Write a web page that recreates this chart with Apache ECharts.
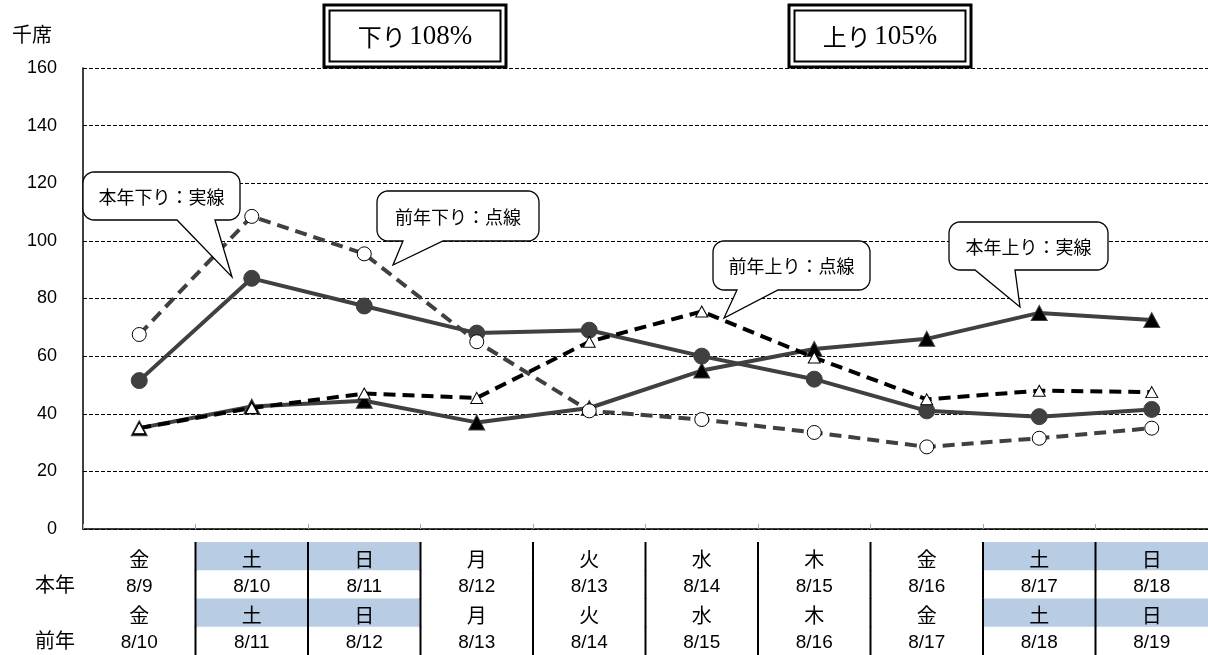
<!DOCTYPE html>
<html><head><meta charset="utf-8">
<script src="https://cdn.jsdelivr.net/npm/echarts/dist/echarts.min.js"></script>
<style>html,body{margin:0;padding:0;background:#fff}#c{width:1208px;height:655px}</style>
</head><body><div id="c"></div>
<script>
// ---- data ----
const datesThis = ['8/9','8/10','8/11','8/12','8/13','8/14','8/15','8/16','8/17','8/18'];
const datesLast = ['8/10','8/11','8/12','8/13','8/14','8/15','8/16','8/17','8/18','8/19'];
const daysThis = ['金','土','日','月','火','水','木','金','土','日'];
const daysLast = ['金','土','日','月','火','水','木','金','土','日'];
const rowNames = ['', '本年', '', '前年'];
const thisDown = [51.5, 87, 77.4, 68, 69, 60, 52, 41, 39, 41.5];   // 本年下り
const lastDown = [67.5, 108.5, 95.5, 65, 41, 38, 33.5, 28.5, 31.5, 35]; // 前年下り
const thisUp   = [35, 42.5, 44.5, 37, 42, 55, 62.5, 66, 75, 72.5];  // 本年上り
const lastUp   = [35, 42, 47, 45.5, 65, 75.5, 59.5, 45, 48, 47.5];  // 前年上り
const yMin = 0, yMax = 160, yStep = 20;
const unitLabel = '千席';
const titleDown = ['下り', '108%'];
const titleUp = ['上り', '105%'];
const calloutTexts = ['本年下り：実線', '前年下り：点線', '前年上り：点線', '本年上り：実線'];

// ---- helpers ----
const CJK = '"Noto Sans CJK JP"';
const SANS = '"Liberation Sans", Arial, sans-serif';
const SERIF = '"Liberation Serif", "Times New Roman", serif';

function arcPts(cx, cy, r, a0, a1, out) {
  const n = 8;
  for (let k = 0; k <= n; k++) {
    const a = a0 + (a1 - a0) * k / n;
    out.push([cx + r * Math.cos(a), cy + r * Math.sin(a)]);
  }
}
function bubblePoints(x, y, w, h, r, b1, b2, tx, ty) {
  const R = x + w, B = y + h, P = Math.PI;
  const pts = [];
  arcPts(x + r, y + r, r, P, 1.5 * P, pts);
  arcPts(R - r, y + r, r, 1.5 * P, 2 * P, pts);
  arcPts(R - r, B - r, r, 0, 0.5 * P, pts);
  pts.push([b2, B], [tx, ty], [b1, B]);
  arcPts(x + r, B - r, r, 0.5 * P, P, pts);
  return pts;
}
function bubble(box, text) {
  const [x, y, w, h, b1, b2, tx, ty] = box;
  return [
    { type: 'polygon', shape: { points: bubblePoints(x, y, w, h, 11, b1, b2, tx, ty) },
      style: { fill: '#fff', stroke: '#000', lineWidth: 1.3 }, z: 100 },
    { type: 'text', z: 101, style: { text: text, x: x + w / 2, y: y + h / 2 + 1,
      align: 'center', verticalAlign: 'middle', textAlign: 'center', textVerticalAlign: 'middle',
      fontSize: 18, fontFamily: CJK, fill: '#000' } }
  ];
}
function titleBox(x, y, w, h, parts) {
  return [
    { type: 'rect', z: 100, shape: { x: x, y: y, width: w, height: h },
      style: { fill: '#fff', stroke: '#000', lineWidth: 3 } },
    { type: 'rect', z: 101, shape: { x: x + 5.5, y: y + 5.5, width: w - 11, height: h - 11 },
      style: { fill: 'none', stroke: '#000', lineWidth: 2 } },
    { type: 'text', z: 102, style: {
      text: '{a|' + parts[0] + '} {b|' + parts[1] + '}', x: x + w / 2, y: y + h / 2 + 1,
      align: 'center', verticalAlign: 'middle', textAlign: 'center', textVerticalAlign: 'middle',
      rich: { a: { fontSize: 24, fontFamily: CJK, fill: '#000' },
              b: { fontSize: 27, fontFamily: SERIF, fill: '#000' } } } }
  ];
}

// table data built from arrays
const tableRows = [daysThis, datesThis, daysLast, datesLast];
const tableData = [];
for (let i = 0; i < datesThis.length; i++) for (let r = 0; r < 4; r++) tableData.push([i, r]);

const chart = echarts.init(document.getElementById('c'), null, { renderer: 'canvas' });
const lineBase = { type: 'line', animation: false, emphasis: { disabled: true }, silent: true };

chart.setOption({
  animation: false,
  backgroundColor: '#fff',
  grid: [
    { left: 83, right: 0, top: 68, bottom: 126 },
    { left: 83, right: 0, top: 542, bottom: 0 }
  ],
  xAxis: [
    { type: 'category', gridIndex: 0, data: datesThis, boundaryGap: true,
      axisLine: { lineStyle: { color: '#000', width: 1.5 } },
      axisTick: { show: true, inside: true, length: 5, lineStyle: { color: '#aaa' } },
      axisLabel: { show: false }, splitLine: { show: false } },
    { type: 'category', gridIndex: 1, data: datesThis, boundaryGap: true,
      axisLine: { show: false }, axisTick: { show: false }, axisLabel: { show: false }, splitLine: { show: false } }
  ],
  yAxis: [
    { type: 'value', gridIndex: 0, min: yMin, max: yMax, interval: yStep,
      axisLine: { show: true, lineStyle: { color: '#000', width: 1.5 } },
      axisTick: { show: false },
      axisLabel: { color: '#000', fontSize: 18, fontFamily: SANS, margin: 26 },
      splitLine: { show: true, lineStyle: { color: '#000', type: [4, 2], width: 1 } } },
    { type: 'category', gridIndex: 1, data: rowNames, inverse: true,
      axisLine: { show: false }, axisTick: { show: false }, splitLine: { show: false },
      axisLabel: { color: '#000', fontSize: 20, fontFamily: CJK, margin: 8 } }
  ],
  series: [
    Object.assign({}, lineBase, { name: '本年下り', data: thisDown, z: 2,
      lineStyle: { color: '#404040', width: 4, type: 'solid' },
      symbol: 'circle', symbolSize: 16,
      itemStyle: { color: '#404040', borderColor: '#404040', borderWidth: 1 } }),
    Object.assign({}, lineBase, { name: '本年上り', data: thisUp, z: 3,
      lineStyle: { color: '#404040', width: 4, type: 'solid' },
      symbol: 'triangle', symbolSize: [16, 15],
      itemStyle: { color: '#000', borderColor: '#404040', borderWidth: 1 } }),
    Object.assign({}, lineBase, { name: '前年下り', data: lastDown, z: 4,
      lineStyle: { color: '#404040', width: 4, type: [12, 7] },
      symbol: 'circle', symbolSize: 14,
      itemStyle: { color: '#fff', borderColor: '#000', borderWidth: 1 } }),
    Object.assign({}, lineBase, { name: '前年上り', data: lastUp, z: 5,
      lineStyle: { color: '#000', width: 4, type: [12, 7] },
      symbol: 'triangle', symbolSize: [12, 11],
      itemStyle: { color: '#fff', borderColor: '#000', borderWidth: 1 } }),
    { type: 'custom', xAxisIndex: 1, yAxisIndex: 1, silent: true, animation: false,
      data: tableData, encode: { x: 0, y: 1 },
      renderItem: function (params, api) {
        const i = api.value(0), r = api.value(1);
        const c = api.coord([i, r]);
        const s = api.size([1, 1]);
        const left = c[0] - s[0] / 2, top = c[1] - s[1] / 2;
        const txt = tableRows[r][i];
        const isDay = r % 2 === 0;
        const children = [];
        if (isDay && (txt === '土' || txt === '日')) {
          children.push({ type: 'rect', shape: { x: left, y: top, width: s[0] + 0.5, height: s[1] },
            style: { fill: '#b8cce4' } });
        }
        children.push({ type: 'text', style: { text: txt, x: c[0], y: c[1] + (isDay ? 3 : 2),
          align: 'center', verticalAlign: 'middle', textAlign: 'center', textVerticalAlign: 'middle',
          fontSize: isDay ? 20 : 19, fontFamily: isDay ? CJK : SANS, fill: '#000' } });
        if (i > 0) {
          children.push({ type: 'line', shape: { x1: left, y1: top, x2: left, y2: top + s[1] + 0.5 },
            style: { stroke: '#000', lineWidth: 2 } });
        }
        return { type: 'group', children: children };
      } }
  ],
  graphic: [].concat(
    [{ type: 'text', style: { text: unitLabel, x: 32, y: 34, align: 'center', verticalAlign: 'middle',
        textAlign: 'center', textVerticalAlign: 'middle', fontSize: 20, fontFamily: CJK, fill: '#000' } }],
    titleBox(324, 5, 182, 62, titleDown),
    titleBox(789, 5, 182, 62, titleUp),
    bubble([83, 172, 157, 48, 177, 215, 232, 277], calloutTexts[0]),
    bubble([377, 191, 162, 50, 403, 443, 393, 265], calloutTexts[1]),
    bubble([713, 241, 157, 49, 737, 778, 724, 318], calloutTexts[2]),
    bubble([949, 222, 159, 48, 975, 1015, 1020, 307], calloutTexts[3])
  )
});
</script></body></html>
